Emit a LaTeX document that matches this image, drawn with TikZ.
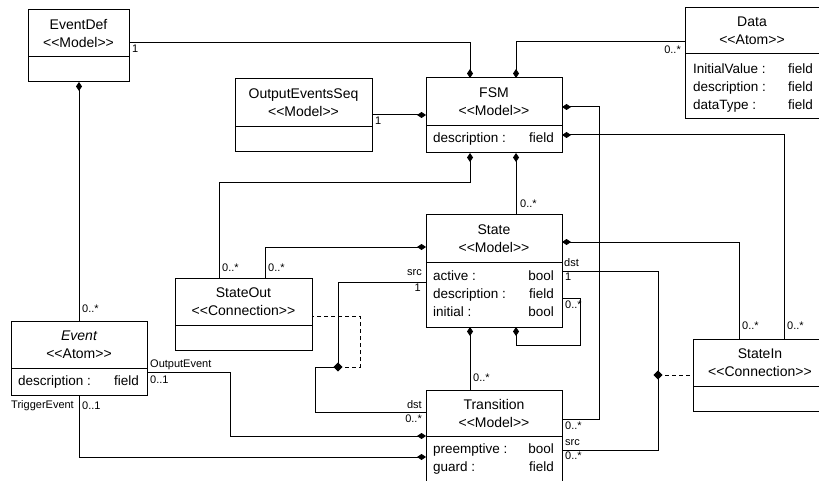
\documentclass[tikz,border=0pt]{standalone}
\usepackage{fontspec}
\newfontfamily\umlf{Liberation Sans}
\usetikzlibrary{arrows.meta,shapes.geometric}
\begin{document}
\begin{tikzpicture}[x=1pt,y=-1pt,
  box/.style={draw,line width=1pt,anchor=north west,inner sep=0pt,outer sep=0pt},
  ttl/.style={font=\umlf\fontsize{14}{18}\selectfont,align=center,inner sep=0pt},
  attr/.style={font=\umlf\fontsize{13.5}{18}\selectfont,inner sep=0pt,anchor=west,text height=9.5pt,text depth=2.5pt},
  typ/.style={attr,anchor=east},
  lbl/.style={font=\umlf\fontsize{11}{12}\selectfont,inner sep=0pt,anchor=west},
  lbr/.style={lbl,anchor=east},
  conn/.style={line width=1pt},
  comp/.style={conn,-{Diamond[length=9pt,width=6pt]}},
  dsh/.style={line width=1pt,dash pattern=on 4pt off 3pt},
  jd/.style={diamond,fill=black,inner sep=0pt,minimum width=9pt,minimum height=9pt},
  sepl/.style={line width=1pt},
]
\useasboundingbox (0,0) rectangle (819,481);
\clip (0,0) rectangle (819,481);
\fill[white] (0,0) rectangle (819,481);

% boxes
\node[box,minimum width=101pt,minimum height=72pt] (eventdef) at (28,10) {};
\node[box,minimum width=137pt,minimum height=73pt] (oes) at (235,79) {};
\node[box,minimum width=136pt,minimum height=75pt] (fsm) at (426,78) {};
\node[box,minimum width=140pt,minimum height=111pt] (data) at (685,8) {};
\node[box,minimum width=136pt,minimum height=112pt] (state) at (426,215) {};
\node[box,minimum width=137pt,minimum height=72pt] (stateout) at (175,278) {};
\node[box,minimum width=136pt,minimum height=74pt] (event) at (11,321) {};
\node[box,minimum width=136pt,minimum height=96pt] (transition) at (426,390) {};
\node[box,minimum width=134pt,minimum height=72pt] (statein) at (693,339) {};

% compartment separators
\draw[sepl] (eventdef.west |- 0,57) -- (eventdef.east |- 0,57);
\draw[sepl] (oes.west |- 0,127) -- (oes.east |- 0,127);
\draw[sepl] (fsm.west |- 0,126) -- (fsm.east |- 0,126);
\draw[sepl] (data.west |- 0,54) -- (data.east |- 0,54);
\draw[sepl] (state.west |- 0,262) -- (state.east |- 0,262);
\draw[sepl] (stateout.west |- 0,325) -- (stateout.east |- 0,325);
\draw[sepl] (event.west |- 0,368) -- (event.east |- 0,368);
\draw[sepl] (transition.west |- 0,436) -- (transition.east |- 0,436);
\draw[sepl] (statein.west |- 0,386) -- (statein.east |- 0,386);

% headers
\node[ttl] (eventdef-h) at (78.5,33.5) {EventDef\\<<Model>>};
\node[ttl] (oes-h) at (303.5,103) {OutputEventsSeq\\<<Model>>};
\node[ttl] (fsm-h) at (494,102) {FSM\\<<Model>>};
\node[ttl] (data-h) at (752,31) {Data\\<<Atom>>};
\node[ttl] (state-h) at (494,238.5) {State\\<<Model>>};
\node[ttl] (stateout-h) at (243.5,301.5) {StateOut\\<<Connection>>};
\node[ttl] (event-h) at (79,344.5) {\itshape Event\\<<Atom>>};
\node[ttl] (transition-h) at (494,413) {Transition\\<<Model>>};
\node[ttl] (statein-h) at (760,362.5) {StateIn\\<<Connection>>};

% attributes
\node[attr] (fsm-a1) at (433,139.5) {description :};
\node[typ] (fsm-t1) at (554,139.5) {field};
\node[attr] (data-a1) at (693,70) {InitialValue :};
\node[attr] (data-a2) at (693,88) {description :};
\node[attr] (data-a3) at (693,106) {dataType :};
\node[typ] (data-t1) at (813,70) {field};
\node[typ] (data-t2) at (813,88) {field};
\node[typ] (data-t3) at (813,106) {field};
\node[attr] (state-a1) at (433,277) {active :};
\node[attr] (state-a2) at (433,295) {description :};
\node[attr] (state-a3) at (433,313) {initial :};
\node[typ] (state-t1) at (554,277) {bool};
\node[typ] (state-t2) at (554,295) {field};
\node[typ] (state-t3) at (554,313) {bool};
\node[attr] (event-a1) at (18,382) {description :};
\node[typ] (event-t1) at (139,382) {field};
\node[attr] (tr-a1) at (433,450) {preemptive :};
\node[attr] (tr-a2) at (433,468) {guard :};
\node[typ] (tr-t1) at (554,450) {bool};
\node[typ] (tr-t2) at (554,468) {field};

% connectors
\draw[comp] (eventdef.east |- 0,43) -| (fsm.north -| 470,0);
\draw[comp] (oes.east |- 0,115) -- (fsm.west |- 0,115);
\draw[comp] (data.west |- 0,42) -| (fsm.north -| 516,0);
\draw[comp] (state.north -| 516,0) -- (fsm.south -| 516,0);
\draw[comp] (stateout.north -| 219,0) |- (470,183) -- (fsm.south -| 470,0);
\draw[comp] (stateout.north -| 265,0) |- (state.west |- 0,247);
\draw[comp] (transition.east |- 0,419) -| (599,107) -- (fsm.east |- 0,107);
\draw[comp] (statein.north -| 784,0) |- (fsm.east |- 0,135);
\draw[comp] (statein.north -| 739,0) |- (state.east |- 0,242);
\draw[conn] (state.east |- 0,271) -| (658,450) -- (transition.east |- 0,450);
\draw[comp] (state.east |- 0,298) -| (580,345) -| (state.south -| 516,0);
\draw[comp] (transition.north -| 470,0) -- (state.south -| 470,0);
\draw[conn] (state.west |- 0,282) -| (338,367) -| (315,412) -- (transition.west |- 0,412);
\draw[comp] (event.north -| 79,0) -- (eventdef.south -| 79,0);
\draw[comp] (event.east |- 0,372) -| (230,436) -- (transition.west |- 0,436);
\draw[comp] (event.south -| 79,0) |- (transition.west |- 0,457);

% association-class junctions
\node[jd] (j1) at (338,367) {};
\node[jd] (j2) at (658,375) {};
\draw[dsh] (j1.center) -| (360,316) -- (stateout.east |- 0,316);
\draw[dsh] (j2.center) -- (statein.west |- j2);
\node[jd] at (j1) {};
\node[jd] at (j2) {};

% role and multiplicity labels
\node[lbl] (l1) at (132,49) {1};
\node[lbl] (l2) at (375,121) {1};
\node[lbr] (l3) at (681,50) {0..*};
\node[lbl] (l4) at (520,204) {0..*};
\node[lbl] (l5) at (222,268) {0..*};
\node[lbl] (l6) at (268,268) {0..*};
\node[lbl] (l7) at (82,309) {0..*};
\node[lbl] (l8) at (150,365) {OutputEvent};
\node[lbl] (l9) at (150,380) {0..1};
\node[lbr] (l10) at (74,406) {TriggerEvent};
\node[lbl] (l11) at (82,406) {0..1};
\node[lbr] (l12) at (422,273) {src};
\node[lbr] (l13) at (421,288) {1};
\node[lbr] (l14) at (422,405) {dst};
\node[lbr] (l15) at (422,419) {0..*};
\node[lbl] (l16) at (564,263) {dst};
\node[lbl] (l17) at (565,277) {1};
\node[lbl] (l18) at (565,305) {0..*};
\node[lbl] (l19) at (473,378) {0..*};
\node[lbl] (l20) at (565,426) {0..*};
\node[lbl] (l21) at (565,443) {src};
\node[lbl] (l22) at (565,456) {0..*};
\node[lbl] (l23) at (742,326) {0..*};
\node[lbl] (l24) at (787,326) {0..*};
\end{tikzpicture}
\end{document}
